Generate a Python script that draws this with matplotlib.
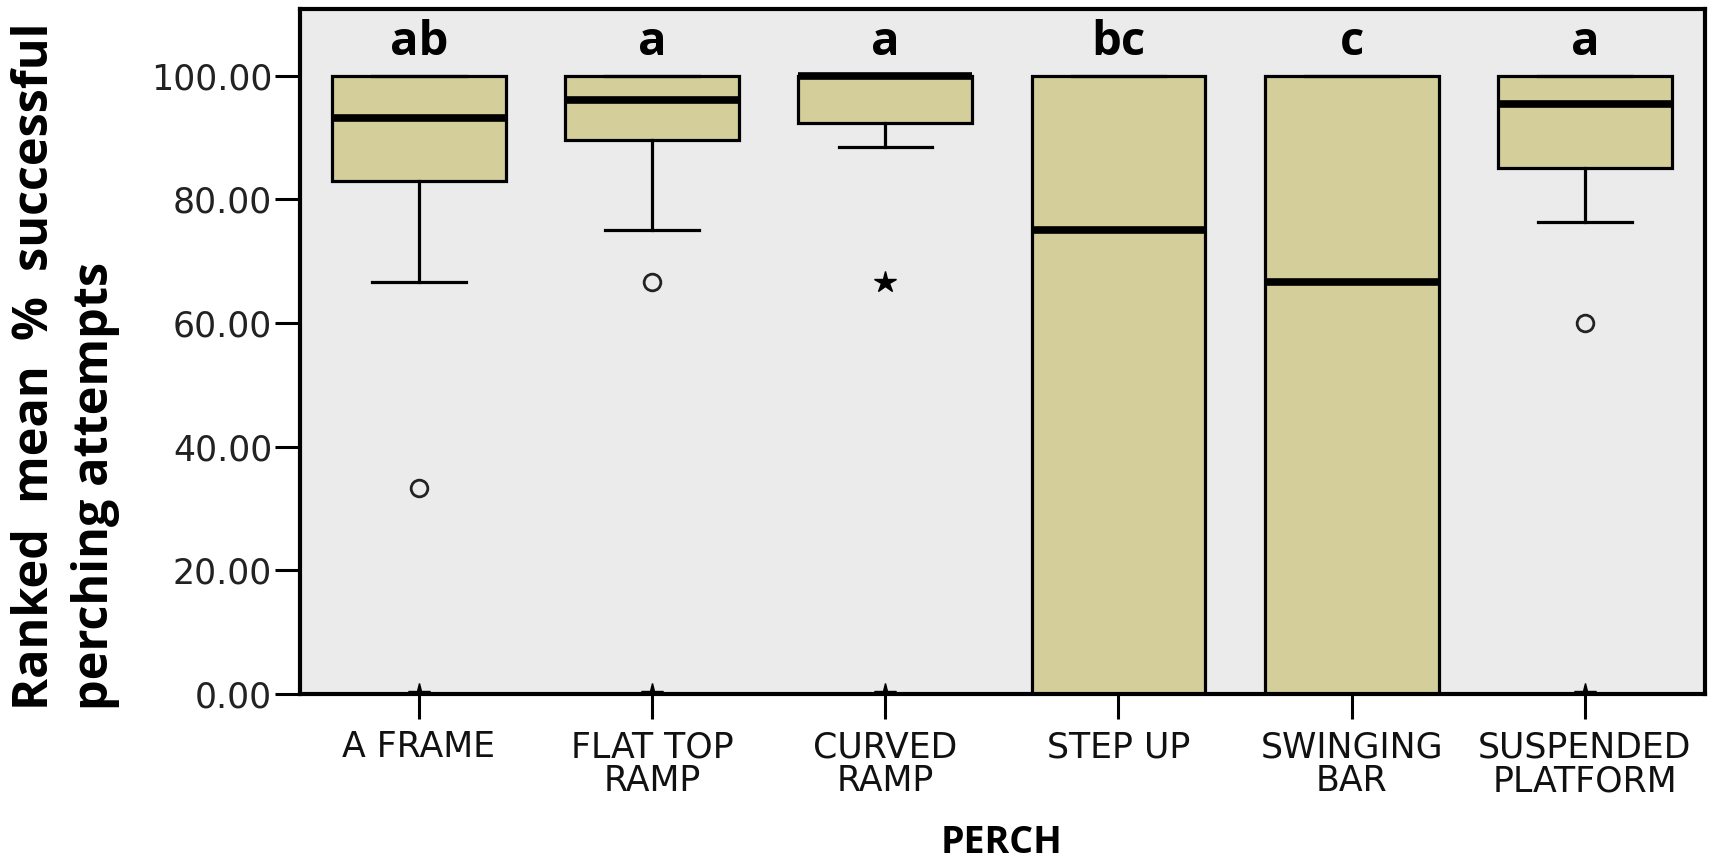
import matplotlib.pyplot as plt

perches = ["A FRAME", "FLAT TOP\nRAMP", "CURVED\nRAMP", "STEP UP", "SWINGING\nBAR", "SUSPENDED\nPLATFORM"]
letters = ["ab", "a", "a", "bc", "c", "a"]
q1 = [83.0, 89.6, 92.4, 0.0, 0.0, 85.0]
medians = [93.1, 96.0, 100.0, 75.0, 66.67, 95.4]
q3 = [100.0, 100.0, 100.0, 100.0, 100.0, 100.0]
whisk_lo = [66.67, 75.0, 88.5, 0.0, 0.0, 76.3]
whisk_hi = [100.0, 100.0, 100.0, 100.0, 100.0, 100.0]
outliers = [[33.33], [66.67], [], [], [], [60.0]]   # кружки
extremes = [[0.0], [0.0], [66.67, 0.0], [], [], [0.0]]   # звёздочки

positions = list(range(1, len(perches) + 1))

stats = []
for i in range(len(perches)):
    stats.append(dict(med=medians[i], q1=q1[i], q3=q3[i],
                      whislo=whisk_lo[i], whishi=whisk_hi[i], fliers=outliers[i]))

fig = plt.figure(figsize=(17.12, 8.63), dpi=100)
ax = fig.add_axes([0.1752, 0.1958, 0.8207, 0.7938])
ax.set_facecolor('#ebebeb')

ax.bxp(stats, positions=positions, widths=0.745, capwidths=0.4, patch_artist=True,
       boxprops=dict(facecolor='#d4cf9a', edgecolor='black', linewidth=2.3),
       medianprops=dict(color='black', linewidth=5.5),
       whiskerprops=dict(color='black', linewidth=2.3),
       capprops=dict(color='black', linewidth=2.3),
       flierprops=dict(marker='o', markerfacecolor='none', markeredgecolor='#222222',
                       markersize=12, markeredgewidth=2.0))

# экстремальные значения звёздочками
for pos, vals in zip(positions, extremes):
    if vals:
        ax.plot([pos] * len(vals), vals, ls='none', marker='*', color='black',
                markersize=16, zorder=5)

# буквы значимости над ящиками
for pos, lab in zip(positions, letters):
    ax.text(pos, 103.4, lab, ha='center', va='baseline', fontsize=34,
            fontweight='bold', family='Open Sans')

ax.set_xlim(0.49, 6.515)
ax.set_ylim(0, 110.8)
ax.set_yticks([0, 20, 40, 60, 80, 100])
ax.set_yticklabels([f"{v:.2f}" for v in [0, 20, 40, 60, 80, 100]], fontsize=25, color='#222222')
ax.set_xticks(positions)
ax.set_xticklabels(perches, fontsize=25, linespacing=1.0, color='#111111')
ax.tick_params(axis='both', direction='out', length=18, width=2.2, color='black')
ax.tick_params(axis='y', pad=2)
ax.tick_params(axis='x', pad=8)

for sp in ax.spines.values():
    sp.set_linewidth(3)
    sp.set_zorder(6)

fig.text(0.585, 0.023, 'PERCH', ha='center', va='center', fontsize=27,
         fontweight='bold', family='Open Sans')
fig.text(0.038, 0.177, 'Ranked  mean  %  successful\nperching attempts', rotation=90,
         ha='center', va='bottom', multialignment='left', fontsize=35,
         fontweight='bold', family='Open Sans', linespacing=1.3)

fig.savefig('out.png', dpi=100)
